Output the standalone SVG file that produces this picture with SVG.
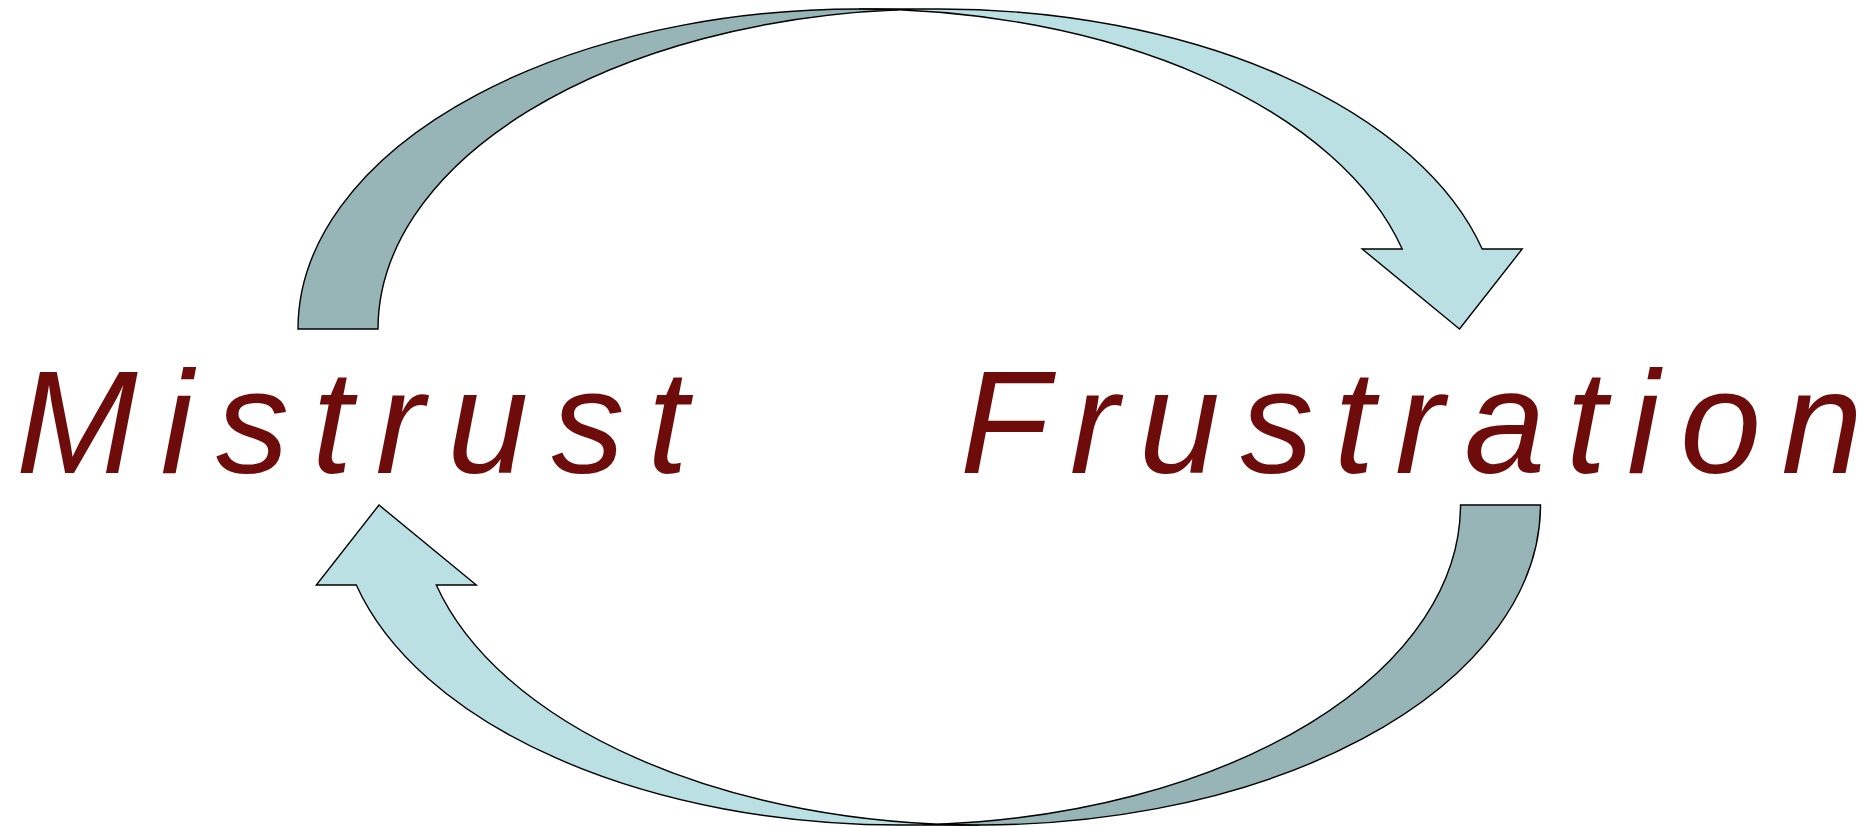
<svg xmlns="http://www.w3.org/2000/svg" width="1866" height="827" viewBox="0 0 1866 827">
<style>
.dark{fill:#97B4B6;stroke:#000;stroke-width:1.4;stroke-linejoin:miter}
.light{fill:#BAE0E4;stroke:#000;stroke-width:1.4;stroke-linejoin:miter}
.lbl{font-family:"Liberation Sans",Arial,sans-serif;font-style:italic;font-size:146px;fill:#6E0B0B}
</style>
<defs>
  <g id="curved-arrow">
    <path class="light" d="M1459.5 329 L1362.2 249 L1402.2 249 A561 320 0 0 0 859 9 L939 9 A561 320 0 0 1 1482.2 249 L1522.2 249 Z"/>
    <path class="dark" d="M298 329 A561 320 0 0 1 899 9.82 A561 320 0 0 0 378 329 Z"/>
  </g>
</defs>
<rect width="1866" height="827" fill="#fff"/>
<g id="connectors">
  <g id="arrow-top"><use href="#curved-arrow"/></g>
  <g id="arrow-bottom" transform="rotate(180 919.25 417)"><use href="#curved-arrow"/></g>
</g>
<g id="node-mistrust"><text class="lbl" x="16 160.6 216 312 375.6 447.2 551.4 647.4" y="473">Mistrust</text></g>
<g id="node-frustration"><text class="lbl" x="960 1069.7 1138.8 1240.5 1334 1395.1 1464.2 1565.9 1627 1679.9 1781.6" y="473">Frustration</text></g>
</svg>
